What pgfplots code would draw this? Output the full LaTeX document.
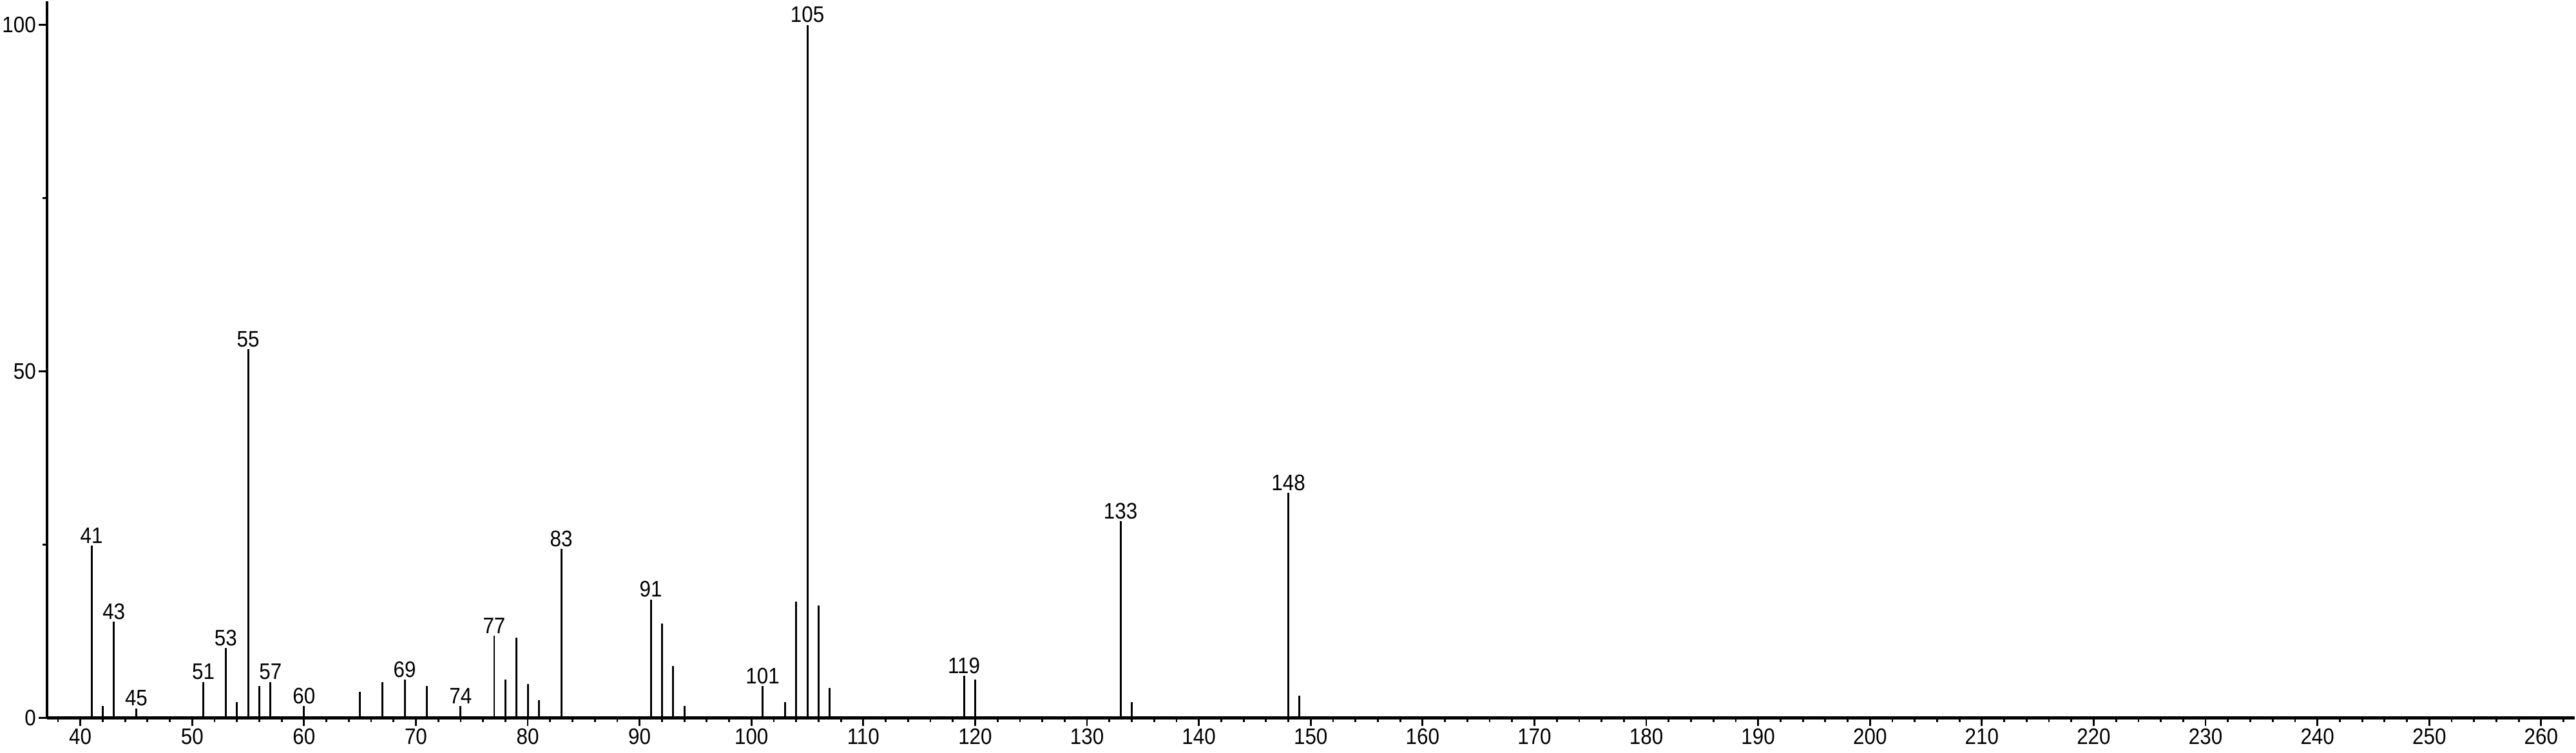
\documentclass[border=0pt]{standalone}
\usepackage{fontspec}
\setmainfont{Liberation Sans}[FakeStretch=0.9]
\usepackage{pgfplots}
\pgfplotsset{compat=1.18}
\begin{document}
\begin{tikzpicture}
\begin{axis}[
  scale only axis,
  width=1125pt, height=319pt,
  xmin=37, xmax=263, ymin=0, ymax=103.4,
  axis x line*=bottom, axis y line*=left,
  axis line style={line width=1.2pt, black},
  xtick={40,50,...,260},
  minor xtick={38,40,...,262},
  ytick={0,50,100},
  minor ytick={25,75},
  tick align=outside,
  major tick length=3.6pt, minor tick length=1.8pt,
  every tick/.style={line width=0.8pt, black},
  every minor tick/.style={line width=0.8pt, black},
  tick label style={font=\fontsize{10}{12}\selectfont, inner sep=1pt},
  /pgf/number format/assume math mode=true,
  /pgf/number format/1000 sep={},
  clip=false,
]
\addplot[ycomb, line width=0.85pt, black, mark=none] coordinates {
(41,24.9) (42,1.7) (43,13.9) (45,1.4) (51,5.2) (53,10.1) (54,2.3) (55,53.2)
(56,4.6) (57,5.2) (60,1.7) (65,3.8) (67,5.2) (69,5.5) (71,4.6) (74,1.7)
(77,11.9) (78,5.5) (79,11.6) (80,4.9) (81,2.6) (83,24.4)
(91,17.1) (92,13.6) (93,7.5) (94,1.7) (101,4.6) (103,2.3) (104,16.8) (105,100)
(106,16.2) (107,4.3) (119,6.1) (120,5.5) (133,28.4) (134,2.3) (148,32.5) (149,3.2)
};
\addplot[draw=none, mark=none, point meta=explicit symbolic,
  nodes near coords,
  nodes near coords style={anchor=south, inner sep=0.8pt, font=\fontsize{10}{12}\selectfont, black}]
coordinates {
(41,24.9)[41] (43,13.9)[43] (45,1.4)[45] (51,5.2)[51] (53,10.1)[53] (55,53.2)[55]
(57,5.2)[57] (60,1.7)[60] (69,5.5)[69] (74,1.7)[74] (77,11.9)[77] (83,24.4)[83]
(91,17.1)[91] (101,4.6)[101] (105,100)[105] (119,6.1)[119] (133,28.4)[133] (148,32.5)[148]
};
\end{axis}
\path ([yshift=-2.5pt]current bounding box.south);
\end{tikzpicture}
\end{document}
